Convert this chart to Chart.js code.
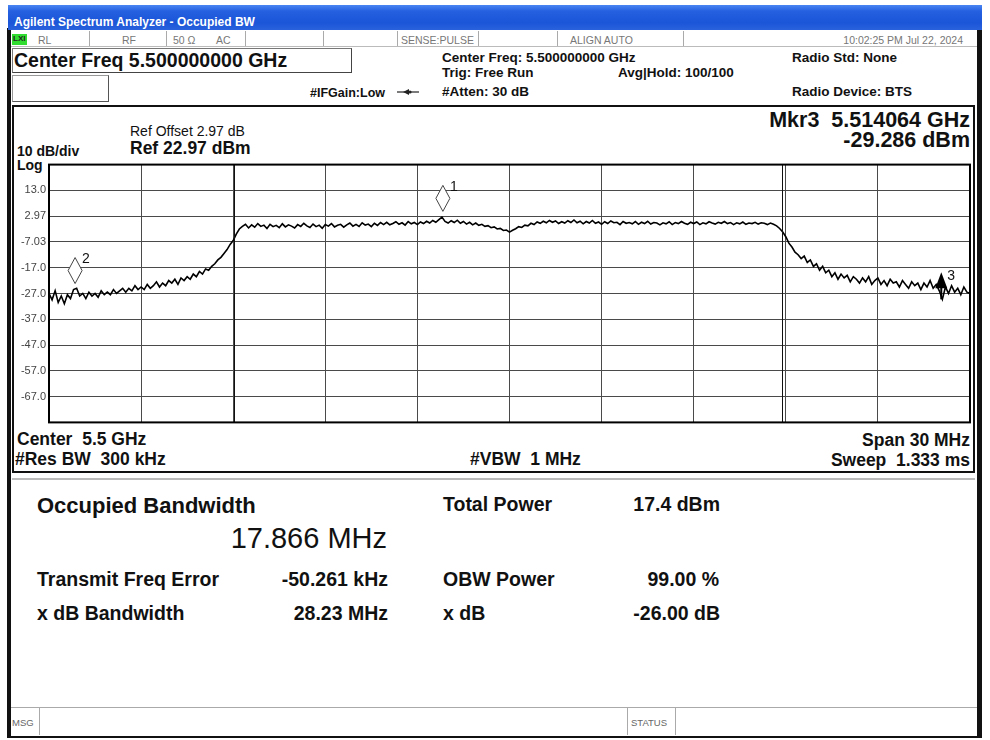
<!DOCTYPE html>
<html>
<head>
<meta charset="utf-8">
<script src="https://cdn.jsdelivr.net/npm/chart.js"></script>
<style>
  body { margin:0; width:990px; height:740px; position:relative; overflow:hidden; background:#fff;
         font-family:'Liberation Sans', Arial, sans-serif; color:#111; }
  .t { position:absolute; white-space:pre; line-height:1; }
  .b { font-weight:bold; }
  .st { font-size:10.5px; color:#777; top:35px; }
  .div { position:absolute; background:#aaa; width:1px; }
</style>
</head>
<body>

<!-- outer frame -->
<div style="position:absolute;left:7px;top:28px;width:4px;height:710px;background:#111"></div>
<div style="position:absolute;left:977px;top:5px;width:5px;height:733px;background:#111"></div>
<div style="position:absolute;left:7px;top:735px;width:975px;height:3px;background:#111"></div>

<!-- title bar -->
<div style="position:absolute;left:8px;top:5px;width:974px;height:25px;
  background:linear-gradient(#4a86f2 0%, #2460e0 25%, #1b55d8 70%, #2a62dc 100%)"></div>
<div class="t b" style="left:14px;top:16px;font-size:12px;color:#fff">Agilent Spectrum Analyzer - Occupied BW</div>

<!-- status row -->
<div style="position:absolute;left:11px;top:31px;width:966px;height:15px;background:#fff;border-bottom:1px solid #bbb"></div>
<div style="position:absolute;left:12px;top:34px;width:15px;height:11px;background:#2fdc2f"></div>
<div class="t b" style="left:13px;top:35px;font-size:8px;color:#222">LXI</div>
<div class="t st" style="left:38px">RL</div>
<div class="t st" style="left:122px">RF</div>
<div class="t st" style="left:173px">50 Ω</div>
<div class="t st" style="left:216px">AC</div>
<div class="t st" style="left:401px">SENSE:PULSE</div>
<div class="t st" style="left:570px">ALIGN AUTO</div>
<div class="t st" style="right:27px">10:02:25 PM Jul 22, 2024</div>
<div class="div" style="left:89px;top:31px;height:15px"></div>
<div class="div" style="left:166px;top:31px;height:15px"></div>
<div class="div" style="left:245px;top:31px;height:15px"></div>
<div class="div" style="left:323px;top:31px;height:15px"></div>
<div class="div" style="left:397px;top:31px;height:15px"></div>
<div class="div" style="left:478px;top:31px;height:15px"></div>
<div class="div" style="left:557px;top:31px;height:15px"></div>
<div class="div" style="left:683px;top:31px;height:15px"></div>

<!-- settings row -->
<div style="position:absolute;left:12px;top:48px;width:338px;height:23px;border:1px solid #777;border-bottom-color:#444;border-right-color:#444"></div>
<div class="t b" style="left:14px;top:50.5px;font-size:19.5px">Center Freq 5.500000000 GHz</div>
<div style="position:absolute;left:12px;top:75px;width:95px;height:25px;border:1px solid #999;border-bottom-color:#555;border-right-color:#555"></div>
<div class="t b" style="left:310px;top:87.4px;font-size:12.5px">#IFGain:Low</div>
<svg style="position:absolute;left:396px;top:87px" width="24" height="10">
  <line x1="1" y1="5" x2="23" y2="5" stroke="#222" stroke-width="1.2"/>
  <polygon points="7,5 13,2 13,8" fill="#222"/>
  <circle cx="14" cy="5" r="1.6" fill="#222"/>
</svg>
<div class="t b" style="left:442px;top:51.2px;font-size:13.5px">Center Freq: 5.500000000 GHz</div>
<div class="t b" style="left:442px;top:66.2px;font-size:13.5px">Trig: Free Run</div>
<div class="t b" style="left:442px;top:85.2px;font-size:13.5px">#Atten: 30 dB</div>
<div class="t b" style="left:618px;top:66.2px;font-size:13.5px">Avg|Hold: 100/100</div>
<div class="t b" style="left:792px;top:51.2px;font-size:13.5px">Radio Std: None</div>
<div class="t b" style="left:792px;top:85.2px;font-size:13.5px">Radio Device: BTS</div>

<!-- graph panel -->
<div style="position:absolute;left:12px;top:105px;width:959px;height:364px;border:2px solid #111;background:#fff"></div>
<div class="t" style="left:130px;top:124.2px;font-size:14px">Ref Offset 2.97 dB</div>
<div class="t b" style="left:130px;top:139.7px;font-size:17.5px">Ref 22.97 dBm</div>
<div class="t b" style="left:17px;top:144.2px;font-size:14px">10 dB/div</div>
<div class="t b" style="left:17px;top:158.2px;font-size:14px">Log</div>
<div class="t b" style="right:20px;top:110px;font-size:21.5px">Mkr3  5.514064 GHz</div>
<div class="t b" style="right:20px;top:130px;font-size:21.5px">-29.286 dBm</div>
<div class="t b" style="left:17px;top:430.7px;font-size:17.5px">Center  5.5 GHz</div>
<div class="t b" style="left:15px;top:450.7px;font-size:17.5px">#Res BW  300 kHz</div>
<div class="t b" style="left:470px;top:450.7px;font-size:17.5px">#VBW  1 MHz</div>
<div class="t b" style="right:20px;top:431.7px;font-size:17.5px">Span 30 MHz</div>
<div class="t b" style="right:20px;top:451.7px;font-size:17.5px">Sweep  1.333 ms</div>

<div style="position:absolute;left:14px;top:155px;width:962px;height:277px">
  <canvas id="spec" width="962" height="277"></canvas>
</div>

<!-- results panel -->
<div style="position:absolute;left:12px;top:478px;width:963px;height:228px;border-top:2px solid #bbb;background:#fff"></div>
<div class="t b" style="left:37px;top:495.1px;font-size:22px">Occupied Bandwidth</div>
<div class="t" style="right:603px;top:524.2px;font-size:29px">17.866 MHz</div>
<div class="t b" style="left:37px;top:569.5px;font-size:19.5px">Transmit Freq Error</div>
<div class="t b" style="right:602px;top:569.5px;font-size:19.5px">-50.261 kHz</div>
<div class="t b" style="left:37px;top:603.5px;font-size:19.5px">x dB Bandwidth</div>
<div class="t b" style="right:602px;top:603.5px;font-size:19.5px">28.23 MHz</div>
<div class="t b" style="left:443px;top:494.5px;font-size:19.5px">Total Power</div>
<div class="t b" style="right:270px;top:494.5px;font-size:19.5px">17.4 dBm</div>
<div class="t b" style="left:443px;top:569.5px;font-size:19.5px">OBW Power</div>
<div class="t b" style="right:271px;top:569.5px;font-size:19.5px">99.00 %</div>
<div class="t b" style="left:443px;top:603.5px;font-size:19.5px">x dB</div>
<div class="t b" style="right:270px;top:603.5px;font-size:19.5px">-26.00 dB</div>

<!-- message bar -->
<div style="position:absolute;left:11px;top:707px;width:966px;height:28px;border-top:1px solid #aaa;background:#fff"></div>
<div class="t" style="left:12px;top:718px;font-size:9.5px;color:#666">MSG</div>
<div class="t" style="left:631px;top:718px;font-size:9.5px;color:#666">STATUS</div>
<div class="div" style="left:39px;top:708px;height:27px"></div>
<div class="div" style="left:627px;top:708px;height:27px"></div>
<div class="div" style="left:675px;top:708px;height:27px"></div>

<script>
// sweep: 301 trace points, 5485 to 5515 MHz (30 MHz span)
const sweepStartMHz = 5485;
const sweepStopMHz = 5515;

const traceDbm = [
  -27.0, -29.5, -26.0, -30.5, -28.0, -31.0, -27.5, -29.0, -25.5, -25.0,
  -28.0, -27.0, -29.0, -26.5, -28.0, -27.0, -28.5, -26.0, -27.5, -26.5,
  -27.5, -25.5, -27.0, -26.0, -25.0, -26.5, -25.0, -26.0, -24.0, -25.5,
  -24.5, -25.5, -23.5, -25.0, -24.0, -22.5, -24.5, -23.0, -24.0, -22.0,
  -23.0, -21.5, -23.5, -21.0, -22.0, -20.5, -21.5, -19.5, -20.5, -18.5,
  -19.5, -17.5, -18.0, -16.5, -15.5, -14.0, -13.0, -11.5, -10.0, -8.0,
  -6.5, -4.0, -2.0, -1.0, -0.2, -1.6, -0.4, -1.3, 0.1, -1.0,
  -0.5, -1.8, -0.2, -1.1, -0.6, -1.5, 0.0, -1.2, -0.4, -0.9,
  -1.6, -0.3, -1.0, 0.2, -0.8, -1.4, -0.1, -1.1, -0.5, -1.7,
  -0.3, -0.9, 0.1, -1.2, -0.6, -0.2, -1.3, -0.4, 0.3, -0.9,
  -0.2, -1.0, 0.4, -0.5, -0.1, -1.1, 0.2, -0.6, 0.5, -0.3,
  0.6, -0.4, 0.1, 0.8, -0.2, 0.4, -0.5, 0.9, 0.0, 0.5,
  -0.3, 0.7, 0.1, 1.0, 0.3, 1.3, 0.6, 1.6, 2.6, 0.9,
  0.3, 1.2, 0.5, 1.4, 0.2, 0.9, -0.1, 0.6, -0.4, 0.3,
  -0.6, -0.2, -1.0, -0.7, -1.5, -1.2, -2.0, -1.8, -2.6, -2.4,
  -3.2, -2.5, -1.9, -1.1, -1.4, -0.5, -0.8, 0.2, -0.3, 0.7,
  0.2, 1.0, 0.4, 1.3, 0.6, 1.1, 0.1, 0.8, 0.3, 1.2,
  0.5, 1.5, 0.4, 1.0, 0.0, 0.9, 0.3, 1.3, 0.2, 0.7,
  -0.2, 0.8, 0.1, 1.1, 0.4, 0.6, -0.3, 0.9, 0.2, 0.5,
  0.0, 0.9, -0.2, 0.6, 0.1, 1.0, -0.1, 0.5, 0.3, -0.4,
  0.4, 0.0, 0.8, -0.3, 0.5, 0.1, 0.9, 0.2, -0.2, 0.6,
  0.1, 0.7, -0.3, 0.4, 0.0, 0.8, 0.3, -0.1, 0.6, 0.2,
  0.9, 0.1, 0.5, -0.3, 0.4, 0.0, 0.7, -0.2, 0.3, 0.1,
  0.6, -0.1, 0.4, 0.2, -0.3, 0.3, -0.2, -0.8, -1.8, -3.2,
  -5.0, -7.5, -9.0, -11.0, -12.0, -13.5, -12.5, -15.0, -14.0, -16.5,
  -15.5, -18.0, -16.5, -19.0, -18.0, -20.5, -19.0, -21.5, -19.5, -21.0,
  -20.0, -22.5, -20.5, -21.5, -23.0, -21.0, -22.5, -20.5, -23.5, -22.0,
  -21.0, -23.5, -22.0, -24.0, -21.5, -23.0, -22.5, -24.5, -22.0, -23.5,
  -25.0, -22.5, -24.0, -23.0, -25.5, -23.0, -24.5, -22.0, -25.0, -23.5,
  -26.0, -29.3, -24.5, -27.0, -24.0, -26.5, -25.0, -27.5, -24.5, -26.5,
  -27.0
];

const xGridMHz = [5485, 5488, 5491, 5494, 5497, 5500, 5503, 5506, 5509, 5512, 5515];
const yGridDbm = [22.97, 12.97, 2.97, -7.03, -17.03, -27.03, -37.03, -47.03, -57.03, -67.03, -77.03];
const yTickLabels = ['', '13.0', '2.97', '-7.03', '-17.0', '-27.0', '-37.0', '-47.0', '-57.0', '-67.0', ''];

const markerNames = ['1', '2', '3'];
const markerFreqMHz = [5497.83, 5485.85, 5514.064];
const markerDbm = [2.5, -25.5, -29.286];
const activeMarker = '3';

const obwEdgesMHz = [5491.017, 5508.883];

const step = (sweepStopMHz - sweepStartMHz) / (traceDbm.length - 1);
const tracePts = traceDbm.map((v, i) => ({ x: sweepStartMHz + i * step, y: v }));

const overlay = {
  id: 'overlay',
  afterDatasetsDraw(chart) {
    const { ctx, chartArea: a, scales } = chart;
    const xs = scales.x, ys = scales.y;
    ctx.save();
    // OBW edge lines
    ctx.strokeStyle = '#111';
    ctx.lineWidth = 1;
    obwEdgesMHz.forEach(f => {
      const px = Math.round(xs.getPixelForValue(f)) + 0.5;
      ctx.beginPath();
      ctx.moveTo(px, a.top);
      ctx.lineTo(px, a.bottom);
      ctx.stroke();
    });
    // plot frame
    ctx.strokeStyle = '#000';
    ctx.lineWidth = 2;
    ctx.strokeRect(a.left, a.top, a.right - a.left, a.bottom - a.top);
    // markers
    ctx.font = '14px "Liberation Sans", Arial';
    ctx.textBaseline = 'top';
    markerNames.forEach((name, k) => {
      const px = xs.getPixelForValue(markerFreqMHz[k]);
      const py = ys.getPixelForValue(markerDbm[k]);
      if (name === activeMarker) {
        ctx.fillStyle = '#000';
        ctx.beginPath();
        ctx.moveTo(px, py - 27);
        ctx.lineTo(px + 6, py - 11);
        ctx.lineTo(px - 6, py - 11);
        ctx.closePath();
        ctx.fill();
        ctx.strokeStyle = '#000';
        ctx.lineWidth = 2;
        ctx.beginPath();
        ctx.moveTo(px, py - 12);
        ctx.lineTo(px, py);
        ctx.stroke();
        ctx.fillStyle = '#111';
        ctx.fillText(name, px + 6, py - 30);
      } else {
        ctx.strokeStyle = '#444';
        ctx.lineWidth = 1;
        ctx.fillStyle = '#fff';
        ctx.beginPath();
        ctx.moveTo(px, py - 32);
        ctx.lineTo(px + 7, py - 19);
        ctx.lineTo(px, py - 6);
        ctx.lineTo(px - 7, py - 19);
        ctx.closePath();
        ctx.fill();
        ctx.stroke();
        ctx.fillStyle = '#111';
        ctx.fillText(name, px + 7, py - 37);
      }
    });
    ctx.restore();
  }
};

new Chart(document.getElementById('spec'), {
  type: 'line',
  data: {
    datasets: [{
      data: tracePts,
      borderColor: '#000',
      borderWidth: 1.6,
      pointRadius: 0,
      tension: 0,
      fill: false
    }]
  },
  options: {
    responsive: false,
    animation: false,
    devicePixelRatio: 1,
    layout: { padding: { top: 5, right: 6, bottom: 6, left: 0 } },
    plugins: { legend: { display: false }, tooltip: { enabled: false } },
    scales: {
      x: {
        type: 'linear',
        min: sweepStartMHz,
        max: sweepStopMHz,
        afterBuildTicks: s => { s.ticks = xGridMHz.map(v => ({ value: v })); },
        afterFit: s => { s.height = 0; },
        ticks: { display: false },
        grid: { color: '#4a4a4a', lineWidth: 1, drawTicks: false },
        border: { display: false }
      },
      y: {
        min: yGridDbm[yGridDbm.length - 1],
        max: yGridDbm[0],
        afterBuildTicks: s => { s.ticks = yGridDbm.map(v => ({ value: v })); },
        afterFit: s => { s.width = 35; },
        ticks: {
          padding: 3,
          color: '#444',
          font: { family: '"Liberation Sans", Arial', size: 11 },
          callback: (v, i) => yTickLabels[i]
        },
        grid: { color: '#4a4a4a', lineWidth: 1, drawTicks: false },
        border: { display: false }
      }
    }
  },
  plugins: [overlay]
});
</script>
</body>
</html>
